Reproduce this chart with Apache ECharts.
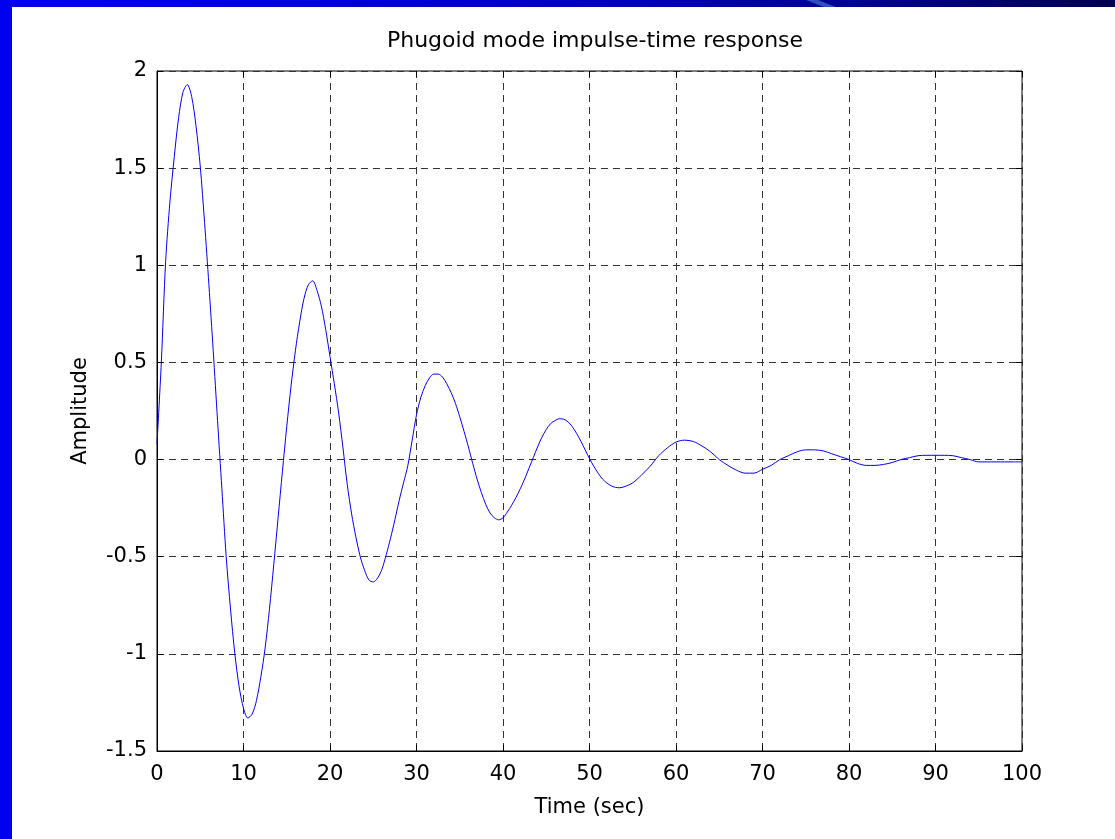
<!DOCTYPE html>
<html lang="en">
<head>
    <meta charset="UTF-8">
    <title>Phugoid mode impulse-time response</title>
    <script type="text/javascript" src="https://cdn.jsdelivr.net/npm/echarts@6/dist/echarts.min.js"></script>
    <style>
        html, body { margin: 0; padding: 0; background: #fff; }
    </style>
</head>
<body>
<div id="chart" style="width: 1115px;height: 839px;"></div>
<script type="text/javascript">
    // time samples (sec)
    var timeSec = [
        0, 0.5, 1, 1.5, 2, 2.5, 3, 3.5, 4, 4.5, 5, 5.5, 6, 6.5, 7, 7.5, 8, 8.5, 9, 9.5,
        10, 10.5, 11, 11.5, 12, 12.5, 13, 13.5, 14, 14.5, 15, 15.5, 16, 16.5, 17, 17.5, 18, 18.5, 19, 19.5,
        20, 20.5, 21, 21.5, 22, 22.5, 23, 23.5, 24, 24.5, 25, 25.5, 26, 26.5, 27, 27.5, 28, 28.5, 29, 29.5,
        30, 30.5, 31, 31.5, 32, 32.5, 33, 33.5, 34, 34.5, 35, 35.5, 36, 36.5, 37, 37.5, 38, 38.5, 39, 39.5,
        40, 40.5, 41, 41.5, 42, 42.5, 43, 43.5, 44, 44.5, 45, 45.5, 46, 46.5, 47, 47.5, 48, 48.5, 49, 49.5,
        50, 50.5, 51, 51.5, 52, 52.5, 53, 53.5, 54, 55, 56, 57, 58, 59,
        60, 61, 62, 63, 64, 65, 66, 67, 68, 69,
        70, 71, 72, 73, 74, 75, 76, 77, 78, 79,
        80, 81, 82, 83, 84, 85, 86, 87, 88, 89,
        90, 91, 92, 93, 94, 95, 96, 97, 98, 99, 100
    ];
    var amplitude = [
        0.08, 0.5, 1.02, 1.33, 1.56, 1.76, 1.89, 1.93, 1.87, 1.72, 1.51, 1.22, 0.9, 0.56, 0.2, -0.15, -0.5, -0.77, -1.0, -1.17,
        -1.28, -1.33, -1.31, -1.24, -1.12, -0.97, -0.77, -0.54, -0.3, -0.06, 0.17, 0.38, 0.56, 0.71, 0.83, 0.9, 0.92, 0.87, 0.79, 0.67,
        0.53, 0.39, 0.24, 0.06, -0.13, -0.28, -0.4, -0.5, -0.57, -0.62, -0.63, -0.61, -0.565, -0.49, -0.405, -0.31, -0.21, -0.12, -0.03, 0.1,
        0.23, 0.32, 0.38, 0.42, 0.44, 0.44, 0.425, 0.39, 0.345, 0.29, 0.22, 0.145, 0.065, -0.02, -0.1, -0.17, -0.23, -0.275, -0.3, -0.31,
        -0.3, -0.27, -0.235, -0.195, -0.15, -0.1, -0.045, 0.01, 0.065, 0.115, 0.155, 0.185, 0.2, 0.21, 0.208, 0.195, 0.17, 0.135, 0.095, 0.05,
        0.005, -0.035, -0.07, -0.1, -0.12, -0.135, -0.143, -0.145, -0.14, -0.12, -0.08, -0.035, 0.02, 0.06,
        0.09, 0.1, 0.093, 0.07, 0.04, 0.0, -0.03, -0.055, -0.07, -0.07,
        -0.05, -0.03, 0.0, 0.02, 0.04, 0.05, 0.05, 0.045, 0.03, 0.015,
        0.0, -0.02, -0.03, -0.03, -0.025, -0.015, 0.0, 0.01, 0.02, 0.022,
        0.022, 0.022, 0.02, 0.01, 0.0, -0.012, -0.012, -0.012, -0.012, -0.012, -0.012
    ];

    var font = 'DejaVu Sans';
    var myChart = echarts.init(document.getElementById('chart'));

    var points = [];
    for (var i = 0; i < timeSec.length; i++) {
        points.push([timeSec[i], amplitude[i]]);
    }

    var gridDash = {
        show: true,
        lineStyle: {color: '#333', width: 1, type: [7, 5]}
    };

    var option = {
        backgroundColor: '#fff',
        animation: false,
        title: {
            text: 'Phugoid mode impulse-time response',
            left: 590,
            textAlign: 'center',
            top: 25,
            textStyle: {fontFamily: font, fontSize: 22, fontWeight: 'normal', color: '#000'}
        },
        grid: {
            left: 157,
            right: 93,
            top: 71,
            bottom: 88,
            show: true,
            borderColor: '#000',
            borderWidth: 1,
            backgroundColor: 'transparent'
        },
        xAxis: [{
            type: 'value',
            min: 0,
            max: 100,
            interval: 10,
            name: 'Time (sec)',
            nameLocation: 'middle',
            nameGap: 46,
            nameTextStyle: {fontFamily: font, fontSize: 21, color: '#000'},
            axisLine: {onZero: false, lineStyle: {color: '#000'}},
            axisTick: {inside: true, length: 6, lineStyle: {color: '#000'}},
            axisLabel: {fontFamily: font, fontSize: 21, color: '#000', margin: 13},
            splitLine: gridDash
        }, {
            type: 'value',
            position: 'top',
            min: 0,
            max: 100,
            interval: 10,
            axisLine: {show: false, onZero: false},
            axisTick: {inside: true, length: 6, lineStyle: {color: '#000'}},
            axisLabel: {show: false},
            splitLine: {show: false}
        }],
        yAxis: [{
            type: 'value',
            min: -1.5,
            max: 2,
            interval: 0.5,
            name: 'Amplitude',
            nameLocation: 'middle',
            nameGap: 66,
            nameTextStyle: {fontFamily: font, fontSize: 21, color: '#000'},
            axisLine: {show: true, onZero: false, lineStyle: {color: '#000'}},
            axisTick: {show: true, inside: true, length: 6, lineStyle: {color: '#000'}},
            axisLabel: {fontFamily: font, fontSize: 21, color: '#000', margin: 10},
            splitLine: gridDash
        }, {
            type: 'value',
            position: 'right',
            min: -1.5,
            max: 2,
            interval: 0.5,
            axisLine: {show: false, onZero: false},
            axisTick: {show: true, inside: true, length: 6, lineStyle: {color: '#000'}},
            axisLabel: {show: false},
            splitLine: {show: false}
        }],
        graphic: [
            {
                type: 'rect',
                shape: {x: 0, y: 0, width: 1115, height: 7},
                style: {
                    fill: new echarts.graphic.LinearGradient(0, 0, 1, 0, [
                        {offset: 0, color: '#0000f2'},
                        {offset: 0.45, color: '#0000c8'},
                        {offset: 0.75, color: '#00009a'},
                        {offset: 1, color: '#000050'}
                    ])
                },
                silent: true
            },
            {
                type: 'polygon',
                shape: {points: [[806, 0], [818, 0], [836, 7], [824, 7]]},
                style: {fill: '#2f4fc0'},
                silent: true
            },
            {
                type: 'rect',
                shape: {x: 0, y: 0, width: 12, height: 839},
                style: {fill: '#0000f0'},
                silent: true
            }
        ],
        series: [{
            type: 'line',
            xAxisIndex: 0,
            yAxisIndex: 0,
            data: points,
            showSymbol: false,
            symbol: 'none',
            smooth: 0.3,
            lineStyle: {color: '#0000ff', width: 1},
            silent: true
        }]
    };
    myChart.setOption(option);
</script>
</body>
</html>
